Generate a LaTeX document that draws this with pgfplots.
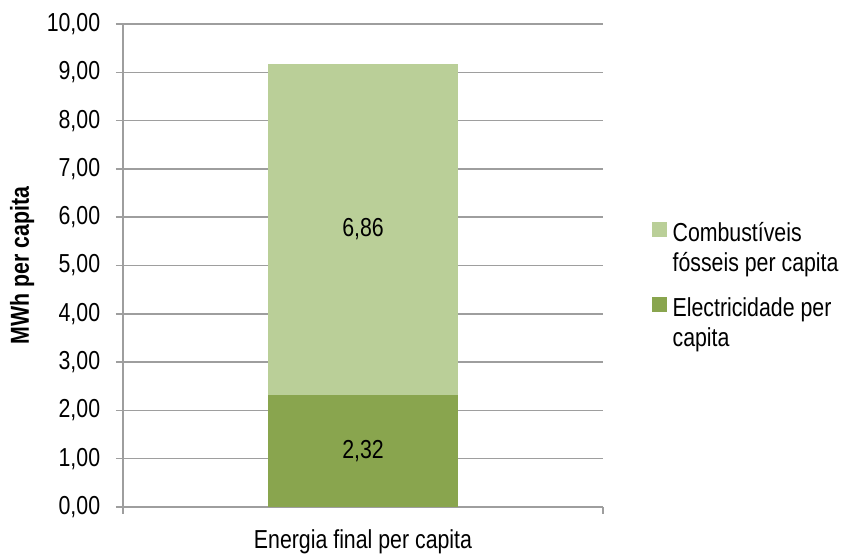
\documentclass[border=0pt]{standalone}
\usepackage{pgfplots}
\pgfplotsset{compat=1.18}
\usepackage{fontspec}
\setmainfont{Liberation Sans}[FakeStretch=0.82]

\definecolor{fossil}{RGB}{186,207,152}
\definecolor{elec}{RGB}{137,165,78}
\definecolor{gridgray}{RGB}{158,158,158}
\newcommand\chartfont{\fontsize{26}{30}\selectfont}

\begin{document}
\chartfont
\begin{tikzpicture}
\path[use as bounding box] (0,0) rectangle (844pt,557pt);
\begin{axis}[
  at={(123pt,50pt)}, anchor=south west,
  scale only axis, width=480pt, height=483pt,
  ybar stacked, bar width=190pt,
  xmin=-0.5, xmax=0.5, ymin=0, ymax=10,
  ytick={0,1,...,10},
  ymajorgrids, grid style={gridgray, line width=1.5pt},
  axis x line*=bottom, axis y line*=left,
  axis line style={gridgray, line width=1.5pt, -},
  tick align=outside, major tick length=7pt,
  tick style={gridgray, line width=1.5pt},
  xtick={-0.5,0.5}, xticklabels={,},
  extra x ticks={0},
  extra x tick labels={Energia final per capita},
  extra x tick style={xtick style={draw=none}, grid=none,
    xticklabel style={yshift=-7pt}},
  every tick label/.append style={font=\chartfont, text=black},
  yticklabel style={xshift=-7pt, /pgf/number format/.cd, fixed, fixed zerofill,
    precision=2, use comma, 1000 sep={}, assume math mode=true},
  ylabel={\bfseries MWh per capita},
  every axis y label/.style={at={(axis description cs:-0.21,0.5)}, rotate=90,
    anchor=center, font=\chartfont},
  legend style={at={(1.0946,0.457)}, anchor=west, draw=none, fill=none,
    font=\chartfont, row sep=22pt, nodes={align=left, inner sep=0pt},
    /tikz/every odd column/.append style={column sep=6pt}},
  legend cell align=left,
  reverse legend,
  legend image code/.code={\fill[#1] (0pt,12pt) rectangle (15pt,27pt);},
  point meta=explicit,
  nodes near coords={\pgfmathprintnumber[fixed, fixed zerofill, precision=2,
    use comma, assume math mode=true]{\pgfplotspointmeta}},
  every node near coord/.append style={font=\chartfont, text=black, anchor=center},
]
\addplot[fill=elec, draw=none] coordinates {(0,2.32) [2.32]};
\addlegendentry{Electricidade per\\capita}
\addplot[fill=fossil, draw=none] coordinates {(0,6.86) [6.86]};
\addlegendentry{Combustíveis\\fósseis per capita}
\end{axis}
\end{tikzpicture}
\end{document}
